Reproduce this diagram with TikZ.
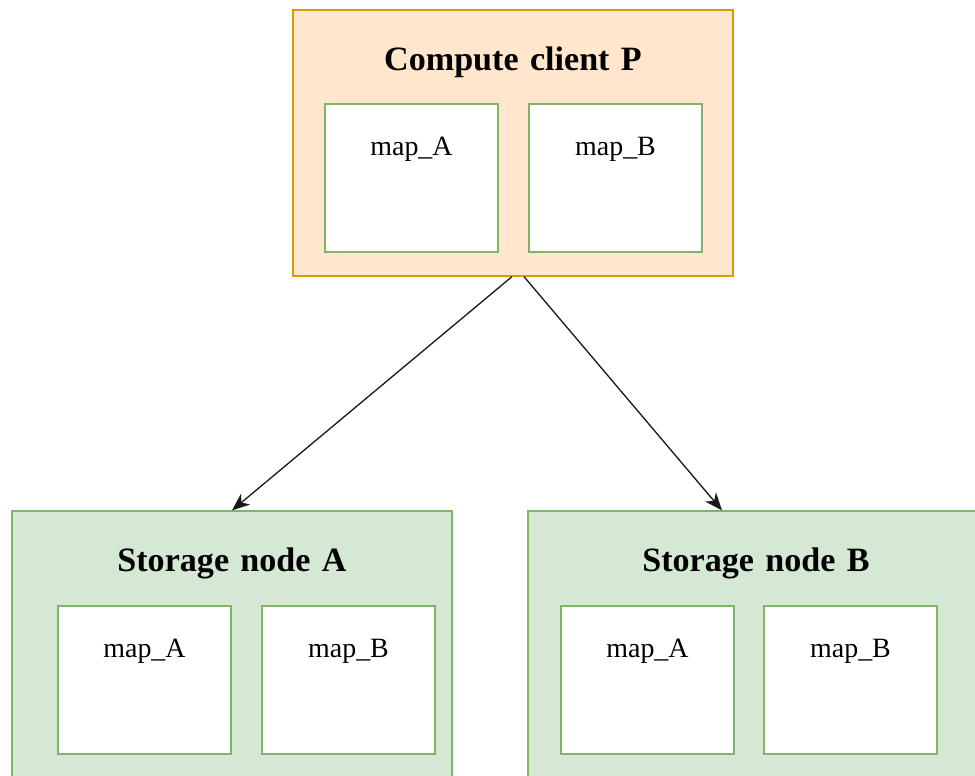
\documentclass[tikz,border=0pt]{standalone}
\usepackage{fontspec}
\setmainfont{Liberation Serif}
\usepackage{xcolor}
\usetikzlibrary{arrows.meta}
\definecolor{clientfill}{HTML}{FFE6CC}
\definecolor{clientline}{HTML}{D79B00}
\definecolor{storefill}{HTML}{D5E8D4}
\definecolor{storeline}{HTML}{82B366}
\tikzset{
  machine/.style  = { draw, rectangle, line width=0.7pt, inner sep=0pt, align=center,
                      text height=1.2cm, text depth=4.12cm,
                      font=\fontsize{19.4}{23}\selectfont\bfseries },
  client/.style   = { machine, fill=clientfill, draw=clientline, text width=8.8cm },
  storage/.style  = { machine, fill=storefill, draw=storeline, text width=#1 },
  mapbox/.style   = { draw=storeline, fill=white, rectangle, line width=0.7pt, inner sep=0pt,
                      align=center, text width=3.46cm, text height=1.02cm, text depth=1.94cm,
                      font=\fontsize{15.9}{19}\selectfont },
  request/.style  = { draw=black!90, line width=0.75pt, -{Stealth[length=10pt,width=8pt,inset=3pt]} }
}
\begin{document}
\begin{tikzpicture}
  \useasboundingbox (0,0) rectangle (19.5,-15.52);
  \clip (0,0) rectangle (19.5,-15.52);
  % Draw the machines
  \node[client]        (client) at (10.26,-2.86)  {Compute client P};
  \node[storage=8.8cm]  (storeA) at (4.64,-12.88)  {Storage node A};
  \node[storage=9.12cm] (storeB) at (15.12,-12.88) {Storage node B};
  % Draw the maps
  \node[mapbox] (mapPA) at (8.23,-3.56)  {map\_A};
  \node[mapbox] (mapPB) at (12.31,-3.56) {map\_B};
  \node[mapbox] (mapAA) at (2.89,-13.6)  {map\_A};
  \node[mapbox] (mapAB) at (6.97,-13.6)  {map\_B};
  \node[mapbox] (mapBA) at (12.95,-13.6) {map\_A};
  \node[mapbox] (mapBB) at (17.01,-13.6) {map\_B};
  % Draw requests
  \draw[request] ([xshift=-0.02cm]client.south) -- (storeA.north);
  \draw[request] ([xshift=0.22cm]client.south) -- ([xshift=-0.68cm]storeB.north);
\end{tikzpicture}
\end{document}
